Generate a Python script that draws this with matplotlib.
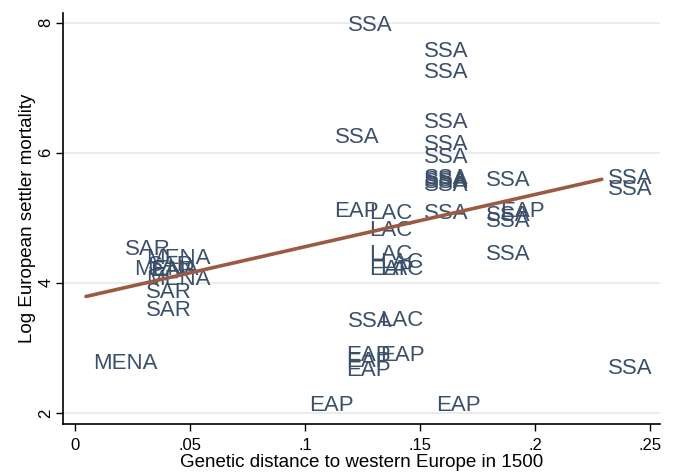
import matplotlib.pyplot as plt

plt.rcParams["font.family"] = ["Liberation Sans", "DejaVu Sans"]

# region labels with genetic distance (x) and log settler mortality (y)
regions = [
    "SSA", "SSA", "SSA", "SSA", "SSA", "SSA", "SSA", "SSA", "SSA", "SSA",
    "SSA", "SSA", "SSA", "SSA", "SSA", "SSA", "SSA", "SSA", "SSA",
    "MENA", "SAR", "SAR", "SAR", "MENA", "MENA", "MENA", "SAR", "EAP",
    "EAP", "LAC", "LAC", "LAC", "EAP", "LAC", "LAC",
    "SSA", "LAC", "EAP", "EAP", "EAP", "EAP", "EAP", "EAP", "EAP",
]
distance = [
    0.117, 0.150, 0.150, 0.150, 0.150, 0.150, 0.150, 0.150, 0.150, 0.111,
    0.177, 0.177, 0.177, 0.177, 0.230, 0.230, 0.230, 0.150, 0.150,
    0.006, 0.020, 0.029, 0.029, 0.029, 0.024, 0.029, 0.030, 0.031,
    0.111, 0.126, 0.126, 0.126, 0.126, 0.131, 0.131,
    0.117, 0.131, 0.116, 0.131, 0.116, 0.116, 0.100, 0.155, 0.183,
]
mortality = [
    7.99, 7.59, 7.27, 6.49, 6.16, 5.96, 5.64, 5.58, 5.10, 6.27,
    5.61, 5.06, 4.98, 4.46, 5.63, 5.47, 2.72, 5.53, 5.60,
    2.79, 4.55, 3.89, 3.61, 4.40, 4.23, 4.09, 4.30, 4.22,
    5.12, 5.09, 4.84, 4.47, 4.24, 4.35, 4.23,
    3.43, 3.46, 2.92, 2.92, 2.82, 2.68, 2.14, 2.14, 5.12,
]

# linear fit endpoints
fit_x = [0.0048, 0.229]
fit_y = [3.79, 5.59]

x_ticks = [0, 0.05, 0.1, 0.15, 0.2, 0.25]
x_tick_labels = ["0", ".05", ".1", ".15", ".2", ".25"]
y_ticks = [2, 4, 6, 8]

label_color = "#3b5068"

fig = plt.figure(figsize=(6.76, 4.73), dpi=100)
ax = fig.add_axes([0.0932, 0.1036, 0.8831, 0.8689])

for y in y_ticks:
    ax.axhline(y, color="#e6eaee", linewidth=1.2, zorder=0)

for name, x, y in zip(regions, distance, mortality):
    ax.annotate(name, (x, y), xytext=(3, -1.5), textcoords="offset points",
                ha="left", va="center", fontsize=16, color=label_color,
                zorder=2)

ax.plot(fit_x, fit_y, color="#9b5a44", linewidth=2.6,
        solid_capstyle="round", zorder=3)

ax.set_xlim(-0.0052, 0.2543)
ax.set_ylim(1.83, 8.146)
ax.set_xticks(x_ticks)
ax.set_xticklabels(x_tick_labels)
ax.set_yticks(y_ticks)
ax.set_yticklabels([str(v) for v in y_ticks], rotation=90, va="center")
ax.tick_params(labelsize=12, length=5, width=1, color="black")
ax.tick_params(axis="x", pad=5)
ax.tick_params(axis="y", pad=2)

ax.spines["top"].set_visible(False)
ax.spines["right"].set_visible(False)
ax.spines["left"].set_linewidth(1.2)
ax.spines["bottom"].set_linewidth(1.2)

ax.set_xlabel("Genetic distance to western Europe in 1500", fontsize=13.5,
              labelpad=1)
ax.set_ylabel("Log European settler mortality", fontsize=13.5, labelpad=2)

fig.savefig("out.png", dpi=100)
